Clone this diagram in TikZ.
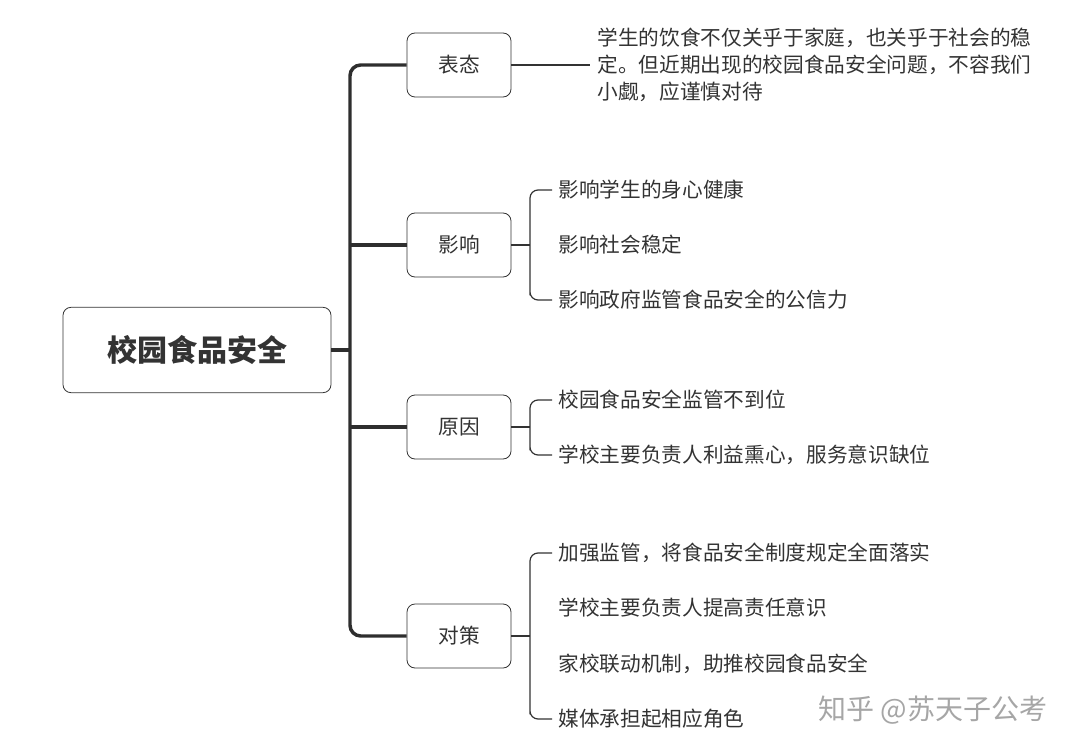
\documentclass[tikz,border=0pt]{standalone}
\usepackage{fontspec}
\setmainfont{Noto Sans CJK SC}
\usetikzlibrary{positioning,calc}
\definecolor{ink}{HTML}{333333}
\begin{document}
\begin{tikzpicture}[x=0.75pt, y=-0.75pt, semithick, text=ink]
        \tikzset{
            root/.style={draw=ink, rounded corners=6pt, minimum width=201pt, minimum height=64pt, font=\fontsize{22.5}{26}\selectfont\bfseries},
            topic/.style={draw=ink, rounded corners=6pt, minimum width=78pt, minimum height=48pt, font=\fontsize{15.5}{18}\selectfont},
            leaf/.style={anchor=west, font=\fontsize{15.5}{18}\selectfont, inner sep=0pt},
            trunk/.style={draw=ink!90!black, line width=2.6pt, rounded corners=8pt},
            twig/.style={draw=ink, line width=0.9pt, rounded corners=6pt}
        }
        \useasboundingbox (0,0) rectangle (1080,752);
        
        \node[root]     (safety)  at (197,350)  {校园食品安全};
        \node[topic]    (stance)  at (459,65)   {表态};
        \node[topic]    (impact)  at (459,245)  {影响};
        \node[topic]    (cause)   at (459,427)  {原因};
        \node[topic]    (measure) at (459,636)  {对策};
        
        \node[leaf, align=left, font=\fontsize{15.5}{20.5}\selectfont] (note) at (597,65)
            {学生的饮食不仅关乎于家庭，也关乎于社会的稳\\定。但近期出现的校园食品安全问题，不容我们\\小觑，应谨慎对待};
        
        \node[leaf] (i1) at (558,190) {影响学生的身心健康};
        \node[leaf] (i2) at (558,245) {影响社会稳定};
        \node[leaf] (i3) at (558,300) {影响政府监管食品安全的公信力};
        \node[leaf] (c1) at (558,400) {校园食品安全监管不到位};
        \node[leaf] (c2) at (558,455) {学校主要负责人利益熏心，服务意识缺位};
        \node[leaf] (m1) at (558,553) {加强监管，将食品安全制度规定全面落实};
        \node[leaf] (m2) at (558,608) {学校主要负责人提高责任意识};
        \node[leaf] (m3) at (558,664) {家校联动机制，助推校园食品安全};
        \node[leaf] (m4) at (558,719) {媒体承担起相应角色};
        
        \node[anchor=east, text=black!35, font=\fontsize{21}{24}\selectfont] (mark) at (1052,710) {知乎 @苏天子公考};
        
        % trunk
        \draw[trunk] (stance.west) -| (350,350) |- (measure.west);
        \draw[trunk] (impact.west) -- (350,245);
        \draw[trunk] (cause.west) -- (350,427);
        \draw[trunk] (safety.east) -- (350,350);
        
        % branches
        \draw[twig] (stance.east) -- (590,65);
        \draw[twig] (impact.east) -- (530,245);
        \draw[twig] ($(i1.west)+(-6,0)$) -| (530,300) |- ($(i3.west)+(-6,0)$);
        \draw[twig] (cause.east) -- (530,427);
        \draw[twig] ($(c1.west)+(-6,0)$) -| (530,455) |- ($(c2.west)+(-6,0)$);
        \draw[twig] (measure.east) -- (530,636);
        \draw[twig] ($(m1.west)+(-6,0)$) -| (530,719) |- ($(m4.west)+(-6,0)$);
\end{tikzpicture}
\end{document}
